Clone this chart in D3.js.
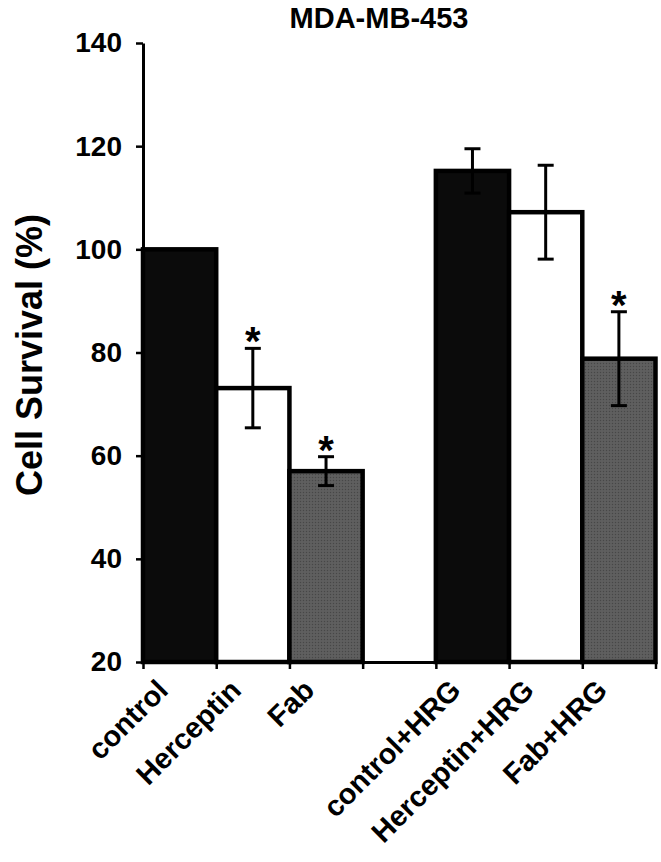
<!DOCTYPE html>
<html>
<head>
<meta charset="utf-8">
<script src="https://cdn.jsdelivr.net/npm/d3@7"></script>
<style>
  html, body { margin: 0; padding: 0; background: #fff; }
  svg { display: block; font-family: "Liberation Sans", Arial, sans-serif; font-weight: bold; }
</style>
</head>
<body>
<svg id="chart" width="661" height="862"></svg>
<script>
// ---- data ----
const title = "MDA-MB-453";
const yLabel = "Cell Survival (%)";
const categories = ["control", "Herceptin", "Fab", "control+HRG", "Herceptin+HRG", "Fab+HRG"];
const values = [100, 73.1, 57, 115.2, 107.2, 78.8];
const errors = [0, 7.7, 2.8, 4.3, 9.1, 9.1];
const significant = [false, true, true, false, false, true];
const fillKind = ["black", "white", "gray", "black", "white", "gray"];
const yTicks = [20, 40, 60, 80, 100, 120, 140];

// ---- layout ----
const svg = d3.select("#chart");
const mLeft = 143, mRight = 655.5, mTop = 43, mBottom = 662;

const slots = [...categories.slice(0, 3), "__gap", ...categories.slice(3)];
const x = d3.scaleBand().domain(slots).range([mLeft, mRight]).paddingInner(0).paddingOuter(0);
const xEdges = d3.scaleLinear().domain([0, slots.length]).range([mLeft, mRight]);
const y = d3.scaleLinear().domain([20, 140]).range([mBottom, mTop]);

// gray dotted texture
const defs = svg.append("defs");
const pat = defs.append("pattern").attr("id", "dots").attr("patternUnits", "userSpaceOnUse")
  .attr("width", 3).attr("height", 3);
pat.append("rect").attr("width", 3).attr("height", 3).attr("fill", "#5c5c5c");
pat.append("rect").attr("width", 1).attr("height", 1).attr("fill", "#474747");
pat.append("rect").attr("x", 1.5).attr("y", 1.5).attr("width", 1).attr("height", 1).attr("fill", "#666");

const fills = { black: "#0b0b0b", white: "#ffffff", gray: "url(#dots)" };

// bars
const data = categories.map((c, i) => ({ c, v: values[i], e: errors[i], s: significant[i], f: fillKind[i] }));
svg.append("g").selectAll("rect").data(data).join("rect")
  .attr("x", d => x(d.c))
  .attr("y", d => y(d.v))
  .attr("width", x.bandwidth())
  .attr("height", d => y(20) - y(d.v))
  .attr("fill", d => fills[d.f])
  .attr("stroke", "#000")
  .attr("stroke-width", 4.5);

// error bars
const eg = svg.append("g").attr("stroke", "#000").attr("stroke-width", 3);
data.filter(d => d.e > 0).forEach(d => {
  const cx = x(d.c) + x.bandwidth() / 2;
  eg.append("line").attr("x1", cx).attr("x2", cx).attr("y1", y(d.v + d.e)).attr("y2", y(d.v - d.e));
  eg.append("line").attr("x1", cx - 8).attr("x2", cx + 8).attr("y1", y(d.v + d.e)).attr("y2", y(d.v + d.e));
  eg.append("line").attr("x1", cx - 8).attr("x2", cx + 8).attr("y1", y(d.v - d.e)).attr("y2", y(d.v - d.e));
});

// asterisks
svg.append("g").selectAll("text").data(data.filter(d => d.s)).join("text")
  .attr("x", d => x(d.c) + x.bandwidth() / 2)
  .attr("y", d => y(d.v + d.e) + 7)
  .attr("text-anchor", "middle")
  .attr("font-size", 40)
  .text("*");

// y axis
const yAxis = svg.append("g").attr("transform", `translate(${mLeft},0)`)
  .call(d3.axisLeft(y).tickValues(yTicks).tickSize(7).tickSizeOuter(0).tickPadding(14));
yAxis.select(".domain").attr("stroke-width", 3);
yAxis.selectAll(".tick line").attr("stroke-width", 2.5);
yAxis.selectAll(".tick text").attr("font-size", 28).attr("font-weight", "bold")
  .attr("font-family", "Liberation Sans, Arial, sans-serif").attr("fill", "#000");

// x axis (ticks at slot boundaries)
const xAxis = svg.append("g").attr("transform", `translate(0,${mBottom})`)
  .call(d3.axisBottom(xEdges).tickValues(d3.range(slots.length + 1)).tickSize(7).tickSizeOuter(0).tickFormat(""));
xAxis.select(".domain").attr("stroke-width", 3);
xAxis.selectAll(".tick line").attr("stroke-width", 2.5);

// x labels
svg.append("g").selectAll("text").data(categories).join("text")
  .attr("transform", d => `translate(${x(d) + x.bandwidth() / 2 - 10},${mBottom + 30}) rotate(-45)`)
  .attr("text-anchor", "end")
  .attr("font-size", 29)
  .text(d => d);

// title
svg.append("text").attr("x", 379).attr("y", 28).attr("text-anchor", "middle")
  .attr("font-size", 29).text(title);

// y label
svg.append("text").attr("transform", `translate(42,355) rotate(-90)`)
  .attr("text-anchor", "middle").attr("font-size", 36).text(yLabel);
</script>
</body>
</html>
